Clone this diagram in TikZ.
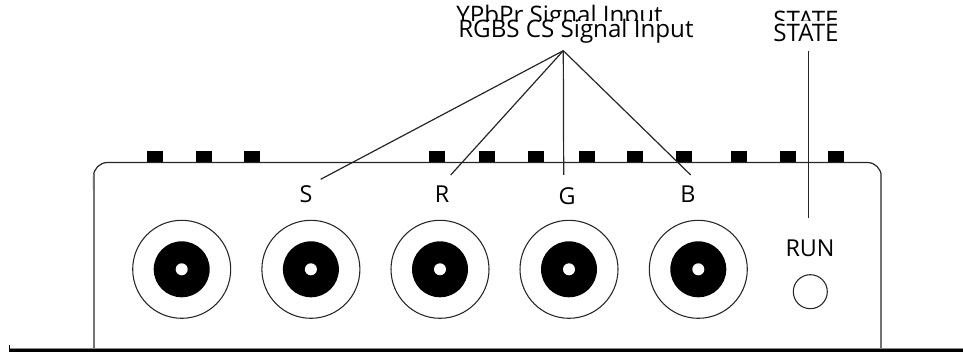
\documentclass[tikz,border=0pt]{standalone}
\usepackage{fontspec}
\setmainfont{Open Sans}
\tikzset{
  lbl/.style={inner sep=0pt,anchor=base,font=\fontsize{17.5}{20}\selectfont},
  hdr/.style={inner sep=0pt,font=\fontsize{18.1}{20}\selectfont},
  pin/.style={fill=black,draw=none,minimum width=12pt,minimum height=8.25pt,inner sep=0pt},
  lead/.style={draw=black!85,line width=0.9pt},
  jackring/.style={circle,draw=black!85,fill=white,line width=0.8pt,minimum size=73.5pt,inner sep=0pt},
  jackcore/.style={circle,fill=black,minimum size=42pt,inner sep=0pt},
  jackhole/.style={circle,fill=white,minimum size=9pt,inner sep=0pt}
}
\begin{document}
\begin{tikzpicture}[x=0.75pt,y=-0.75pt]
\useasboundingbox (0,0) rectangle (963,352);
% case
\draw[black!85,line width=0.9pt,rounded corners=10.5pt] (93.5,190) -- (93.5,162.5) -- (881.3,162.5) -- (881.3,190);
\draw[black!55,line width=1.5pt] (93.5,349) -- (93.5,174);
\draw[black!55,line width=1.5pt] (881.3,349) -- (881.3,174);
\fill[black!45] (9,347.8) rectangle (963,349.2);
\fill[black] (9,349) rectangle (963,352);
\fill[black] (9,345) rectangle (10.2,349);
% pins along the top edge
\node[pin] (p1) at (155,157) {};
\node[pin] (p2) at (203.5,157) {};
\node[pin] (p3) at (252,157) {};
\node[pin] (p4) at (437,157) {};
\node[pin] (p5) at (487,157) {};
\node[pin] (p6) at (536,157) {};
\node[pin] (p7) at (587,157) {};
\node[pin] (p8) at (635,157) {};
\node[pin] (p9) at (684,157) {};
\node[pin] (p10) at (739,157) {};
\node[pin] (p11) at (788,157) {};
\node[pin] (p12) at (836,157) {};
% jacks
\node[jackring] (ringS) at (181.7,269.3) {};
\node[jackring] (ringR) at (310.9,269.3) {};
\node[jackring] (ringG) at (440,269.3) {};
\node[jackring] (ringB) at (569,269.3) {};
\node[jackring] (ringE) at (698.3,269.3) {};
\node[jackcore] (coreS) at (ringS) {};
\node[jackcore] (coreR) at (ringR) {};
\node[jackcore] (coreG) at (ringG) {};
\node[jackcore] (coreB) at (ringB) {};
\node[jackcore] (coreE) at (ringE) {};
\node[jackhole] (holeS) at (ringS) {};
\node[jackhole] (holeR) at (ringR) {};
\node[jackhole] (holeG) at (ringG) {};
\node[jackhole] (holeB) at (ringB) {};
\node[jackhole] (holeE) at (ringE) {};
\node[circle,draw=black!85,line width=0.8pt,minimum size=25.5pt,inner sep=0pt] (led) at (810.3,291.7) {};
% labels
\node[lbl] (lblS) at (306,203) {S};
\node[lbl] (lblR) at (442,203) {R};
\node[lbl] (lblG) at (567,205) {G};
\node[lbl] (lblB) at (688,203) {B};
\node[lbl] (lblRun) at (810,256.5) {RUN};
% old headings, cut off by the new ones
\node[hdr,anchor=base west] (oldrgb) at (456,24) {YPbPr Signal Input};
\node[hdr,anchor=base] (oldstate) at (806,29) {STATE};
\fill[white] (440,21.3) rectangle (850,45);
\node[hdr,anchor=base west] (rgb) at (458,37.5) {RGBS CS Signal Input};
\node[hdr,anchor=base] (state) at (806,41.5) {STATE};
% leads
\coordinate (apex) at (563.3,50.7);
\coordinate (endS) at (320.7,179.3);
\coordinate (endR) at (450.7,175);
\coordinate (endG) at (563.7,175);
\coordinate (endB) at (690.7,175);
\coordinate (statetop) at (808.7,50.7);
\coordinate (stateend) at (808.7,217.7);
\draw[lead] (apex) -- (endS);
\draw[lead] (apex) -- (endR);
\draw[lead] (apex) -- (endG);
\draw[lead] (apex) -- (endB);
\draw[lead] (statetop) -- (stateend);
\end{tikzpicture}
\end{document}
